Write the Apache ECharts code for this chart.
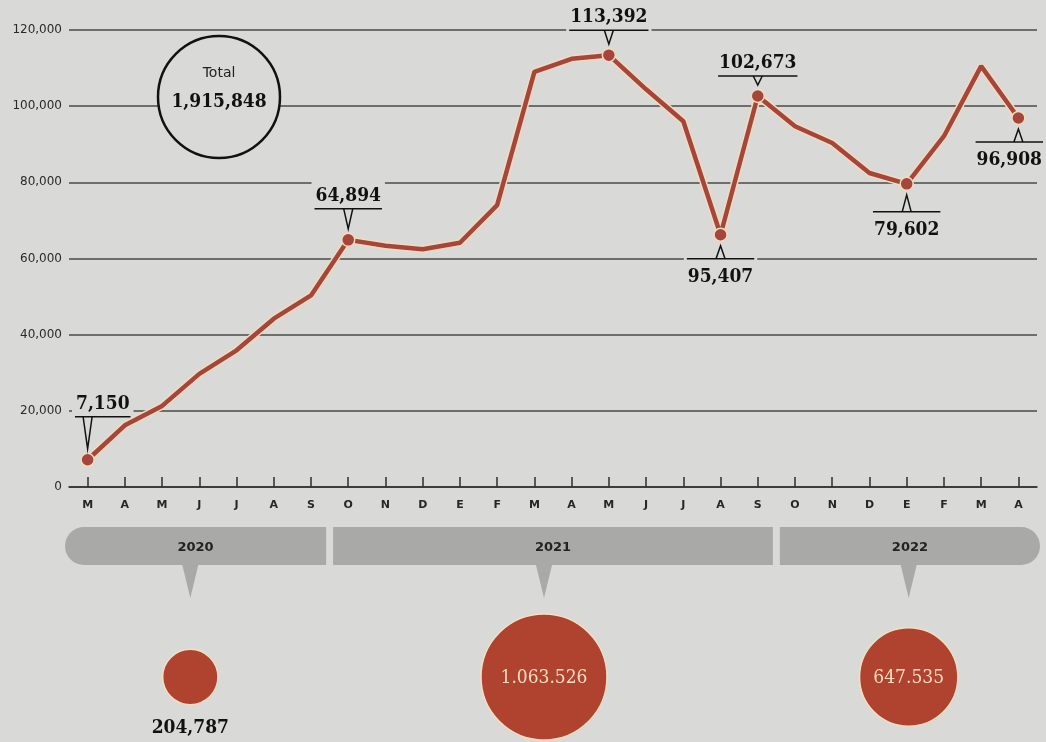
<!DOCTYPE html>
<html><head><meta charset="utf-8">
<script src="https://cdn.jsdelivr.net/npm/echarts@6/dist/echarts.min.js"></script>
<style>html,body{margin:0;padding:0;background:#d9d9d7;} #c{width:1046px;height:742px;}</style>
</head><body><div id="c"></div>
<script>
// ---------- data ----------
const months = ['M','A','M','J','J','A','S','O','N','D','E','F','M','A','M','J','J','A','S','O','N','D','E','F','M','A'];
const visitors = [7150,16200,21300,29700,35900,44200,50300,
                  64894,63340,62450,64130,74030,109020,112440,113392,104420,96050,66240,102673,
                  94740,90340,82450,79602,92110,110520,96908];
const yMin = 0, yMax = 120000, yStep = 20000;
const calloutIndex = [0,7,14,17,18,22,25];
const calloutText  = ['7,150','64,894','113,392','95,407','102,673','79,602','96,908'];
const calloutSide  = ['above','above','above','below','above','below','below'];
const yearLabels = ['2020','2021','2022'];
const yearFirst  = [0,7,19];
const yearLast   = [6,18,25];
const yearTotals = [204787,1063526,647535];
const yearTotalText = ['204,787','1.063.526','647.535'];
const totalLabel = 'Total';

// ---------- layout / style ----------
const BG = '#d9d9d7';
const LINE = '#a6453c';
const HALO = '#f1dcbc';
const BUBBLE = '#b0432f';
const SERIF = '"DejaVu Serif Condensed", "DejaVu Serif", serif';
const NUMFONT = 'bold 19px ' + SERIF;
const NUMFONT_LIGHT = '19px ' + SERIF;
const SANS = '"DejaVu Sans", "Open Sans", sans-serif';
const calloutGap = [43,31,25,24,20,28,24];
const yearAnchorShift = [-9,-9,2];

const totalSum = yearTotals.reduce((a,b)=>a+b,0);
const totalText = totalSum.toLocaleString('en-US');
const maxTotal = Math.max(...yearTotals);

const chart = echarts.init(document.getElementById('c'), null, {renderer:'canvas'});

const option = {
  backgroundColor: BG,
  animation: false,
  grid: {left: 69, right: 9, top: 30, bottom: 255},
  xAxis: {
    type: 'category', data: months, boundaryGap: true,
    axisLine: {lineStyle: {color: '#2e2e2e', width: 1.5}},
    axisTick: {show: true, inside: true, length: 10, alignWithLabel: true, lineStyle: {color: '#2e2e2e', width: 1.5}},
    axisLabel: {color: '#262626', fontFamily: SANS, fontWeight: 'bold', fontSize: 11, margin: 13},
    splitLine: {show: false}
  },
  yAxis: {
    type: 'value', min: yMin, max: yMax, interval: yStep,
    axisLine: {show: false}, axisTick: {show: false},
    axisLabel: {color: '#2a2a2a', fontFamily: SANS, fontSize: 12, margin: 7,
      formatter: v => v.toLocaleString('en-US')},
    splitLine: {lineStyle: {color: '#4a4a4a', width: 1.5}}
  },
  series: [
    {
      type: 'line', data: visitors, silent: true, showSymbol: false, z: 2,
      lineStyle: {color: HALO, width: 7.5}
    },
    {
      type: 'line', data: visitors, z: 3,
      symbol: 'circle',
      symbolSize: (v, p) => calloutIndex.includes(p.dataIndex) ? 13 : 0,
      showAllSymbol: true,
      lineStyle: {color: LINE, width: 4.5},
      itemStyle: {color: LINE, borderColor: HALO, borderWidth: 1.5}
    },
    {
      type: 'custom', clip: false, z: 2,
      data: yearLabels.map((y,i)=>[yearFirst[i], yearLast[i], yearTotals[i]]),
      encode: {x: [0,1], y: -1},
      renderItem: function(params, api){
        const i = params.dataIndex, n = yearLabels.length;
        const s = api.value(0), e = api.value(1), tot = api.value(2);
        const p0 = api.coord([s, 0]), p1 = api.coord([e, 0]);
        const band = api.size([1, 0])[0];
        const axisY = p0[1];
        const x1 = p0[0] - band/2 + (i === 0 ? -4 : 3.5);
        const x2 = p1[0] + band/2 + (i === n-1 ? 3 : -3.5);
        const top = axisY + 40, h = 38;
        const r = i === 0 ? [19,0,0,19] : (i === n-1 ? [0,19,19,0] : 0);
        const cx = (p0[0] + p1[0]) / 2 + yearAnchorShift[i];
        const rad = 63 * Math.sqrt(tot / maxTotal);
        const cy = axisY + 190;
        const inside = rad > 40;
        return {
          type: 'group',
          children: [
            {type: 'rect', shape: {x: x1, y: top, width: x2 - x1, height: h, r: r}, style: {fill: '#a9a9a8'}},
            {type: 'text', style: {text: yearLabels[i], x: (x1 + x2) / 2, y: top + h/2 + 2, align: 'center', verticalAlign: 'middle',
              font: 'bold 13px ' + SANS, fill: '#222'}},
            {type: 'polygon', shape: {points: [[cx - 8, top + h], [cx + 8, top + h], [cx, top + h + 33]]}, style: {fill: '#a9a9a8'}},
            {type: 'circle', shape: {cx: cx, cy: cy, r: rad}, style: {fill: BUBBLE, stroke: '#f3dfc2', lineWidth: 1.5}},
            {type: 'text', style: {text: yearTotalText[i], x: cx, y: inside ? cy + 1 : cy + rad + 23,
              align: 'center', verticalAlign: 'middle', font: inside ? NUMFONT_LIGHT : NUMFONT, fill: inside ? '#f4dec2' : '#111'}}
          ]
        };
      }
    }
  ]
};
chart.setOption(option);

// ---------- callouts & total badge ----------
const mctx = document.createElement('canvas').getContext('2d');
mctx.font = NUMFONT;
const graphics = [];
calloutIndex.forEach((idx, k) => {
  const pt = chart.convertToPixel({xAxisIndex: 0, yAxisIndex: 0}, [idx, visitors[idx]]);
  const w = mctx.measureText(calloutText[k]).width + 2;
  let lx1 = pt[0] - w/2;
  lx1 = Math.max(75, Math.min(1043 - w, lx1));
  const lx2 = lx1 + w;
  const above = calloutSide[k] === 'above';
  const lineY = above ? pt[1] - calloutGap[k] : pt[1] + calloutGap[k];
  const tipY = above ? pt[1] - 11 : pt[1] + 11;
  const maskY = above ? lineY - 27 : lineY - 2;
  graphics.push({type: 'rect', z: 1, silent: true,
    shape: {x: lx1 - 3, y: maskY, width: w + 6, height: 29}, style: {fill: BG}});
  graphics.push({type: 'line', z: 10, silent: true,
    shape: {x1: lx1, y1: lineY, x2: lx2, y2: lineY}, style: {stroke: '#111', lineWidth: 1.5}});
  graphics.push({type: 'polyline', z: 10, silent: true,
    shape: {points: [[pt[0] - 4.5, lineY], [pt[0], tipY], [pt[0] + 4.5, lineY]]},
    style: {stroke: '#111', lineWidth: 1.5, fill: null}});
  graphics.push({type: 'text', z: 10, silent: true,
    style: {text: calloutText[k], x: (lx1 + lx2) / 2, y: above ? lineY - 13 : lineY + 18,
      align: 'center', verticalAlign: 'middle', font: NUMFONT, fill: '#111'}});
});
// Total badge
graphics.push({type: 'circle', z: 1, silent: true, shape: {cx: 219, cy: 97, r: 61},
  style: {fill: BG, stroke: '#111', lineWidth: 2.5}});
graphics.push({type: 'text', z: 10, silent: true,
  style: {text: totalLabel, x: 219, y: 73, align: 'center', verticalAlign: 'middle', font: '14px ' + SANS, fill: '#222'}});
graphics.push({type: 'text', z: 10, silent: true,
  style: {text: totalText, x: 219, y: 102, align: 'center', verticalAlign: 'middle', font: NUMFONT, fill: '#111'}});

chart.setOption({graphic: {elements: graphics}});
</script>
</body></html>
